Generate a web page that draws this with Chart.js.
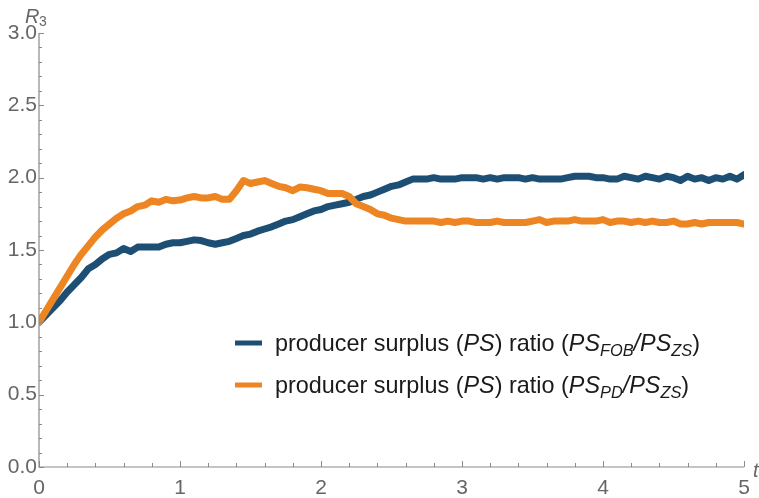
<!DOCTYPE html>
<html>
<head>
<meta charset="utf-8">
<script src="https://cdn.jsdelivr.net/npm/chart.js@4"></script>
<style>
html,body{margin:0;padding:0;background:#fff;}
#wrap{width:759px;height:498px;position:relative;}
</style>
</head>
<body>
<div id="wrap"><canvas id="c" width="759" height="498"></canvas></div>
<script>
// time grid (t)
const tValues = [0,0.05,0.1,0.15,0.2,0.25,0.3,0.35,0.4,0.45,0.5,0.55,0.6,0.65,0.7,0.75,0.8,0.85,0.9,0.95,
1,1.05,1.1,1.15,1.2,1.25,1.3,1.35,1.4,1.45,1.5,1.55,1.6,1.65,1.7,1.75,1.8,1.85,1.9,1.95,
2,2.05,2.1,2.15,2.2,2.25,2.3,2.35,2.4,2.45,2.5,2.55,2.6,2.65,2.7,2.75,2.8,2.85,2.9,2.95,
3,3.05,3.1,3.15,3.2,3.25,3.3,3.35,3.4,3.45,3.5,3.55,3.6,3.65,3.7,3.75,3.8,3.85,3.9,3.95,
4,4.05,4.1,4.15,4.2,4.25,4.3,4.35,4.4,4.45,4.5,4.55,4.6,4.65,4.7,4.75,4.8,4.85,4.9,4.95,5];

// PS_FOB / PS_ZS
const ratioFOB = [1.00,1.05,1.10,1.15,1.21,1.26,1.31,1.37,1.40,1.44,1.47,1.48,1.51,1.49,1.52,1.52,1.52,1.52,1.54,1.55,
1.55,1.56,1.57,1.565,1.55,1.54,1.55,1.56,1.58,1.60,1.61,1.63,1.645,1.66,1.68,1.70,1.71,1.73,1.75,1.77,
1.78,1.80,1.81,1.82,1.83,1.85,1.87,1.88,1.90,1.92,1.94,1.95,1.97,1.99,1.99,1.99,2.00,1.99,1.99,1.99,
2.00,2.00,2.00,1.99,2.00,1.99,2.00,2.00,2.00,1.99,2.00,1.99,1.99,1.99,1.99,2.00,2.01,2.01,2.01,2.00,
2.00,1.99,1.99,2.01,2.00,1.99,2.01,2.00,1.99,2.01,2.00,1.98,2.01,1.99,2.00,1.98,2.00,1.99,2.01,1.99,2.02];

// PS_PD / PS_ZS
const ratioPD = [1.00,1.08,1.16,1.24,1.32,1.40,1.47,1.53,1.59,1.64,1.68,1.72,1.75,1.77,1.80,1.81,1.84,1.83,1.85,1.84,
1.845,1.86,1.87,1.86,1.86,1.87,1.85,1.85,1.91,1.98,1.96,1.97,1.98,1.96,1.94,1.93,1.91,1.935,1.93,1.92,
1.91,1.89,1.89,1.89,1.87,1.82,1.80,1.78,1.75,1.74,1.72,1.71,1.70,1.70,1.70,1.70,1.70,1.69,1.70,1.69,
1.70,1.70,1.69,1.69,1.69,1.70,1.69,1.69,1.69,1.69,1.70,1.71,1.69,1.70,1.70,1.70,1.71,1.70,1.70,1.70,
1.71,1.69,1.70,1.70,1.69,1.70,1.69,1.70,1.69,1.69,1.70,1.68,1.68,1.69,1.68,1.69,1.69,1.69,1.69,1.69,1.68];

const yMajorTicks = [0,0.5,1,1.5,2,2.5,3];
const xMajorTicks = [0,1,2,3,4,5];
const yMinorStep = 0.1;
const xMinorStep = 0.2;

const BLUE = '#1c4f73';
const ORANGE = '#ec8522';
const AXIS = '#8a8a8a';
const TICKTXT = '#666666';

const legendItems = [
  {color: BLUE, parts: [{t:'producer surplus ('},{t:'PS',i:1},{t:') ratio ('},{t:'PS',i:1},{t:'FOB',i:1,s:1},{t:'/',i:1},{t:'PS',i:1},{t:'ZS',i:1,s:1},{t:')'}]},
  {color: ORANGE, parts: [{t:'producer surplus ('},{t:'PS',i:1},{t:') ratio ('},{t:'PS',i:1},{t:'PD',i:1,s:1},{t:'/',i:1},{t:'PS',i:1},{t:'ZS',i:1,s:1},{t:')'}]}
];

const FONT = '"Liberation Sans", Arial, sans-serif';

function drawRich(ctx, x, y, parts, size, color){
  ctx.fillStyle = color;
  ctx.textBaseline = 'alphabetic';
  ctx.textAlign = 'left';
  for (const p of parts){
    const fs = p.s ? size*0.7 : size;
    ctx.font = (p.i ? 'italic ' : '') + fs + 'px ' + FONT;
    const dy = p.s ? size*0.2 : 0;
    ctx.fillText(p.t, x, y + dy);
    x += ctx.measureText(p.t).width;
  }
  return x;
}

const decor = {
  id: 'decor',
  afterDraw(chart){
    const ctx = chart.ctx;
    const xs = chart.scales.x, ys = chart.scales.y;
    const x0 = xs.getPixelForValue(0), x1 = xs.getPixelForValue(5);
    const y0 = ys.getPixelForValue(0), y1 = ys.getPixelForValue(3);
    ctx.save();
    ctx.strokeStyle = AXIS;
    ctx.lineWidth = 1.2;
    ctx.beginPath();
    ctx.moveTo(x0, y1); ctx.lineTo(x0, y0); ctx.lineTo(x1, y0);
    ctx.stroke();
    ctx.lineWidth = 1;
    // y ticks
    for (let k = 0; k <= 30; k++){
      const v = k*yMinorStep;
      const major = yMajorTicks.some(m => Math.abs(m - v) < 1e-6);
      const py = Math.round(ys.getPixelForValue(v)) + 0.5;
      ctx.beginPath(); ctx.moveTo(x0, py); ctx.lineTo(x0 + (major ? 5 : 3), py); ctx.stroke();
    }
    // x ticks
    for (let k = 0; k <= 25; k++){
      const v = k*xMinorStep;
      const major = xMajorTicks.some(m => Math.abs(m - v) < 1e-6);
      const px = Math.round(xs.getPixelForValue(v)) + 0.5;
      ctx.beginPath(); ctx.moveTo(px, y0); ctx.lineTo(px, y0 - (major ? 6 : 4)); ctx.stroke();
    }
    // axis titles
    ctx.fillStyle = TICKTXT;
    ctx.textBaseline = 'alphabetic';
    ctx.font = 'italic 20px ' + FONT;
    ctx.fillText('R', 25, 23);
    ctx.font = '14px ' + FONT;
    ctx.fillText('3', 39, 26);
    ctx.font = 'italic 20px ' + FONT;
    ctx.fillText('t', 753, 477);
    // legend
    const L = [{y:343},{y:385}];
    legendItems.forEach((it, i) => {
      const ly = L[i].y;
      ctx.strokeStyle = it.color;
      ctx.lineWidth = 5;
      ctx.beginPath(); ctx.moveTo(235, ly); ctx.lineTo(262, ly); ctx.stroke();
      drawRich(ctx, 275, ly + 8, it.parts, 23.4, '#1a1a1a');
    });
    ctx.restore();
  }
};

new Chart(document.getElementById('c'), {
  type: 'line',
  data: {
    datasets: [
      {label: 'PS ratio (PS_FOB/PS_ZS)', data: tValues.map((t,i)=>({x:t, y:ratioFOB[i]})), borderColor: BLUE, borderWidth: 7, pointRadius: 0, tension: 0, order: 1, borderJoinStyle:'round', borderCapStyle:'round'},
      {label: 'PS ratio (PS_PD/PS_ZS)', data: tValues.map((t,i)=>({x:t, y:ratioPD[i]})), borderColor: ORANGE, borderWidth: 7, pointRadius: 0, tension: 0, order: 0, borderJoinStyle:'round', borderCapStyle:'round'}
    ]
  },
  options: {
    responsive: false,
    animation: false,
    events: [],
    layout: {padding: {left: 0, right: 15, top: 33, bottom: 0}},
    plugins: {legend: {display: false}, tooltip: {enabled: false}},
    scales: {
      x: {
        type: 'linear', min: 0, max: 5,
        grid: {display: false, drawTicks: false}, border: {display: false},
        afterBuildTicks: s => { s.ticks = xMajorTicks.map(v => ({value: v})); },
        ticks: {color: TICKTXT, font: {family: FONT, size: 21}, padding: 9, maxRotation: 0, callback: v => String(v)},
        afterFit: s => { s.height = 31; }
      },
      y: {
        type: 'linear', min: 0, max: 3,
        grid: {display: false, drawTicks: false}, border: {display: false},
        afterBuildTicks: s => { s.ticks = yMajorTicks.map(v => ({value: v})); },
        ticks: {color: TICKTXT, font: {family: FONT, size: 21}, padding: 2, callback: v => Number(v).toFixed(1)},
        afterFit: s => { s.width = 39; }
      }
    }
  },
  plugins: [decor]
});
</script>
</body>
</html>
